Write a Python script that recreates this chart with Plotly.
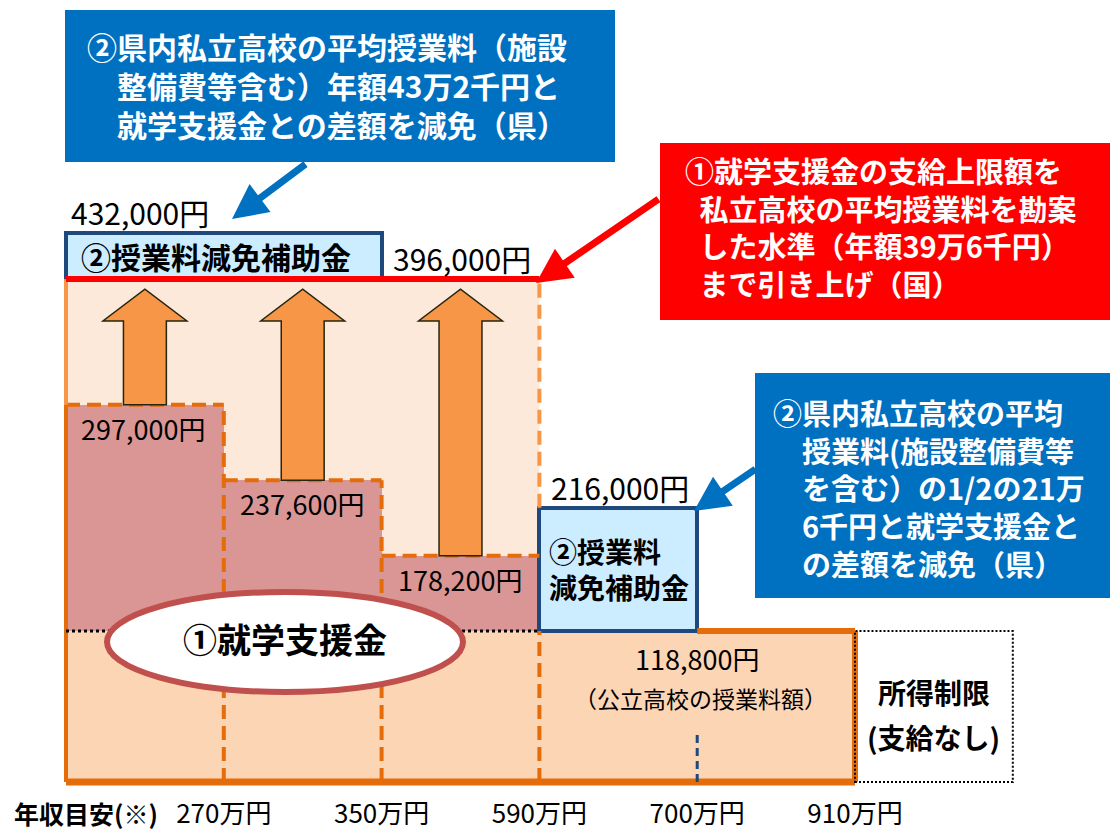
import plotly.graph_objects as go

# Annual-income brackets (upper limits) printed under the chart
income_labels = ["270万円", "350万円", "590万円", "700万円", "910万円"]
# 就学支援金 paid in the three lowest brackets (yen / year)
support_steps = [297000, 237600, 178200]
# Base amount (公立高校の授業料額) paid in every bracket up to 910万円
public_tuition = 118800
# Raised upper limit of 就学支援金
support_cap = 396000
# Average private high-school tuition in the prefecture
private_avg = 432000
# Half of the average private tuition
private_half = 216000

# ---- canvas geometry -------------------------------------------------------
W, H = 1110, 833
B = 40                      # bottom margin for the income labels
PLOT_H = H - B
Y0 = 782                    # pixel row of 0 yen
PX_PER_YEN = 1.27 / 1000    # vertical scale
X0 = 66                     # pixel column of the left edge of the first bracket
COL_W = 157.8               # pixel width of one bracket

FONT = "Noto Sans CJK JP, Noto Sans, sans-serif"
ORANGE_D = "#E46C0A"
ORANGE_L = "#F79646"
NAVY = "#1F497D"
BLUE = "#0070C0"
RED = "#FF0000"


def ux(px):
    return (px - X0) / COL_W


def vy(py):
    return (Y0 - py) / PX_PER_YEN


def paper_x(px):
    return px / W


def paper_y(py):
    return (PLOT_H - py) / PLOT_H


fig = go.Figure()

# 就学支援金 above the base amount (stepped by bracket)
fig.add_bar(
    x=[i + 0.5 for i in range(len(support_steps))],
    y=[s - public_tuition for s in support_steps],
    base=public_tuition, width=1,
    marker=dict(color="#D99694", line=dict(width=0)),
    hoverinfo="skip",
)
# base amount for every bracket up to 910万円
fig.add_bar(
    x=[i + 0.5 for i in range(len(income_labels))],
    y=[public_tuition] * len(income_labels),
    base=0, width=1,
    marker=dict(color="#FCD5B5", line=dict(width=0)),
    hoverinfo="skip",
)
# ② 授業料減免補助金 (prefecture) on top of the raised cap
fig.add_bar(
    x=[1.0], y=[private_avg - support_cap], base=support_cap, width=2,
    marker=dict(color="#CCECFF", line=dict(color=NAVY, width=4)),
    hoverinfo="skip",
)
# ② 授業料減免補助金 for the 590-700万円 bracket
fig.add_bar(
    x=[3.5], y=[private_half - public_tuition], base=public_tuition, width=1,
    marker=dict(color="#CCECFF", line=dict(color=NAVY, width=4)),
    hoverinfo="skip",
)

shapes = []
# light area raised up to the new cap
shapes.append(dict(type="rect", xref="x", yref="y", x0=0, x1=3,
                   y0=public_tuition, y1=support_cap,
                   fillcolor="#FDE9D9", line=dict(width=0), layer="below"))

DASH = "14px,7px"
# dashed steps of 就学支援金
for i, s in enumerate(support_steps):
    shapes.append(dict(type="line", xref="x", yref="y", x0=i, x1=i + 1, y0=s, y1=s,
                       line=dict(color=ORANGE_D, width=4, dash=DASH)))
# dashed bracket boundaries
for i in range(1, 4):
    top = max(support_steps[i - 1], support_steps[i]) if i < 3 else public_tuition
    shapes.append(dict(type="line", xref="x", yref="y", x0=i, x1=i, y0=0, y1=top,
                       line=dict(color=ORANGE_D, width=4, dash=DASH)))
# right edge of the raised area
shapes.append(dict(type="line", xref="x", yref="y", x0=3, x1=3,
                   y0=private_half, y1=support_cap,
                   line=dict(color=ORANGE_L, width=4, dash=DASH)))
# left edge
shapes.append(dict(type="line", xref="x", yref="y", x0=0, x1=0,
                   y0=support_steps[0], y1=support_cap,
                   line=dict(color=ORANGE_L, width=4)))
shapes.append(dict(type="line", xref="x", yref="y", x0=0, x1=0,
                   y0=0, y1=support_steps[0],
                   line=dict(color=ORANGE_D, width=4)))
# frame of the base amount
shapes.append(dict(type="line", xref="x", yref="y", x0=0, x1=5, y0=0, y1=0,
                   line=dict(color=ORANGE_D, width=7)))
shapes.append(dict(type="line", xref="x", yref="y", x0=5, x1=5, y0=0, y1=public_tuition,
                   line=dict(color=ORANGE_D, width=6)))
shapes.append(dict(type="line", xref="x", yref="y", x0=4, x1=5,
                   y0=public_tuition, y1=public_tuition,
                   line=dict(color=ORANGE_D, width=6)))
shapes.append(dict(type="line", xref="x", yref="y", x0=0, x1=3,
                   y0=public_tuition, y1=public_tuition,
                   line=dict(color="black", width=3, dash="3px,3px")))
# income-limit box (no payment above 910万円)
shapes.append(dict(type="rect", xref="x", yref="y", x0=5, x1=6, y0=0, y1=public_tuition,
                   fillcolor="rgba(0,0,0,0)",
                   line=dict(color="black", width=2, dash="2px,2px")))
# short dashed marker at 700万円
shapes.append(dict(type="line", xref="x", yref="y", x0=4, x1=4,
                   y0=0, y1=public_tuition * 0.32,
                   line=dict(color=NAVY, width=3, dash="8px,5px")))

# upward arrows from each step to the new cap
SHAFT = 0.136
HEAD = 0.266
tip = support_cap - 8000
neck = support_cap - 33000
for i, s in enumerate(support_steps):
    cx = i + 0.5
    path = (f"M {cx - SHAFT},{s} L {cx - SHAFT},{neck} L {cx - HEAD},{neck} "
            f"L {cx},{tip} L {cx + HEAD},{neck} L {cx + SHAFT},{neck} "
            f"L {cx + SHAFT},{s} Z")
    shapes.append(dict(type="path", xref="x", yref="y", path=path,
                       fillcolor=ORANGE_L, line=dict(color="#26260F", width=1.5)))

# the new cap (国)
shapes.append(dict(type="line", xref="x", yref="y", x0=0, x1=3,
                   y0=support_cap, y1=support_cap,
                   line=dict(color=RED, width=6)))

# ellipse label for 就学支援金
ell_x0, ell_x1 = ux(107), ux(463)
ell_y0, ell_y1 = vy(692), vy(592)
shapes.append(dict(type="circle", xref="x", yref="y",
                   x0=ell_x0, x1=ell_x1, y0=ell_y0, y1=ell_y1,
                   fillcolor="white", line=dict(color="#C0504D", width=6)))

# callout boxes: (box in pixels, colour, font size, text start, block centre, lines)
EN = "\u2002"
IDEO = "\u3000"
callouts = [
    dict(box=(65, 10, 615, 162), color=BLUE, size=30, x=85, y=85,
         lines=["②県内私立高校の平均授業料（施設",
                IDEO + "整備費等含む）年額43万2千円と",
                IDEO + "就学支援金との差額を減免（県）"]),
    dict(box=(660, 143, 1110, 320), color=RED, size=29, x=683, y=226,
         lines=["①就学支援金の支給上限額を",
                EN + "私立高校の平均授業料を勘案",
                EN + "した水準（年額39万6千円）",
                EN + "まで引き上げ（国）"]),
    dict(box=(755, 373, 1110, 598), color=BLUE, size=29, x=771, y=487,
         lines=["②県内私立高校の平均",
                IDEO + "授業料(施設整備費等",
                IDEO + "を含む）の1/2の21万",
                IDEO + "6千円と就学支援金と",
                IDEO + "の差額を減免（県）"]),
]

annotations = []
for c in callouts:
    x0, y0, x1, y1 = c["box"]
    shapes.append(dict(type="rect", xref="paper", yref="paper",
                       x0=paper_x(x0), x1=paper_x(x1),
                       y0=paper_y(y1), y1=paper_y(y0),
                       fillcolor=c["color"], line=dict(width=0)))
    annotations.append(dict(xref="paper", yref="paper", x=paper_x(c["x"]), y=paper_y(c["y"]),
                            xanchor="left", yanchor="middle", align="left",
                            showarrow=False,
                            text="<b>" + "<br>".join(c["lines"]) + "</b>",
                            font=dict(family=FONT, size=c["size"], color="white")))

# callout pointers (tip, tail in pixels)
pointers = [
    ((232, 219), (307, 163), BLUE),
    ((536, 283), (660, 198), RED),
    ((694, 511), (757, 468), BLUE),
]
for (tx, ty), (sx, sy), col in pointers:
    annotations.append(dict(xref="paper", yref="paper", x=paper_x(tx), y=paper_y(ty),
                            ax=sx - tx, ay=sy - ty, axref="pixel", ayref="pixel",
                            text="", showarrow=True, arrowhead=2, arrowsize=1.0,
                            arrowwidth=7, arrowcolor=col))


def yen(v):
    return f"{v:,}円"


LABEL = dict(family=FONT, color="black")
# amount labels
annotations += [
    dict(x=0.02, y=private_avg, text=yen(private_avg), xanchor="left", yanchor="bottom",
         yshift=-3, font=dict(size=30, **LABEL)),
    dict(x=2.06, y=support_cap, text=yen(support_cap), xanchor="left", yanchor="bottom",
         yshift=-3, font=dict(size=30, **LABEL)),
    dict(x=3.06, y=private_half, text=yen(private_half), xanchor="left", yanchor="bottom",
         yshift=-3, font=dict(size=30, **LABEL)),
]
for i, (s, dx) in enumerate(zip(support_steps, [0.08, 0.09, 0.09])):
    annotations.append(dict(x=i + dx, y=s, text=yen(s), xanchor="left", yanchor="top",
                            yshift=-2, font=dict(size=27, **LABEL)))
annotations += [
    dict(x=4.0, y=public_tuition, text=yen(public_tuition), xanchor="center",
         yanchor="middle", yshift=-27, font=dict(size=27, **LABEL)),
    dict(x=4.02, y=public_tuition, text="（公立高校の授業料額）", xanchor="center",
         yanchor="middle", yshift=-67, font=dict(size=23, **LABEL)),
    dict(x=0.08, y=(support_cap + private_avg) / 2, text="<b>②授業料減免補助金</b>",
         xanchor="left", yanchor="middle", font=dict(size=30, **LABEL)),
    dict(x=3.05, y=(public_tuition + private_half) / 2, text="<b>②授業料<br>減免補助金</b>",
         xanchor="left", yanchor="middle", align="left", font=dict(size=28, **LABEL)),
    dict(x=(ell_x0 + ell_x1) / 2, y=(ell_y0 + ell_y1) / 2 + 3000, text="<b>①就学支援金</b>",
         xanchor="center", yanchor="middle", font=dict(size=34, **LABEL)),
    dict(x=5.5, y=vy(692), text="<b>所得制限</b>", xanchor="center", yanchor="middle",
         font=dict(size=28, **LABEL)),
    dict(x=5.5, y=vy(737), text="<b>(支給なし)</b>", xanchor="center", yanchor="middle",
         font=dict(size=28, **LABEL)),
]
for a in annotations:
    a.setdefault("showarrow", False)
    a.setdefault("xref", "x")
    a.setdefault("yref", "y")

annotations.append(dict(xref="paper", yref="paper", x=paper_x(12), y=paper_y(813),
                        xanchor="left", yanchor="middle", showarrow=False,
                        text="<b>年収目安(※)</b>",
                        font=dict(family=FONT, size=25, color="black")))

fig.update_layout(
    width=W, height=H,
    margin=dict(l=0, r=0, t=0, b=B),
    paper_bgcolor="white", plot_bgcolor="white",
    barmode="overlay", bargap=0, showlegend=False,
    shapes=shapes, annotations=annotations,
    xaxis=dict(range=[-X0 / COL_W, (W - X0) / COL_W],
               tickvals=[1, 2, 3, 4, 5], ticktext=income_labels,
               ticks="", showgrid=False, zeroline=False, showline=False,
               ticklabelstandoff=3,
               tickfont=dict(family=FONT, size=26, color="black"),
               fixedrange=True),
    yaxis=dict(range=[-(PLOT_H - Y0) / PX_PER_YEN, Y0 / PX_PER_YEN],
               visible=False, showgrid=False, zeroline=False, fixedrange=True),
)

fig.write_html("out.html")
